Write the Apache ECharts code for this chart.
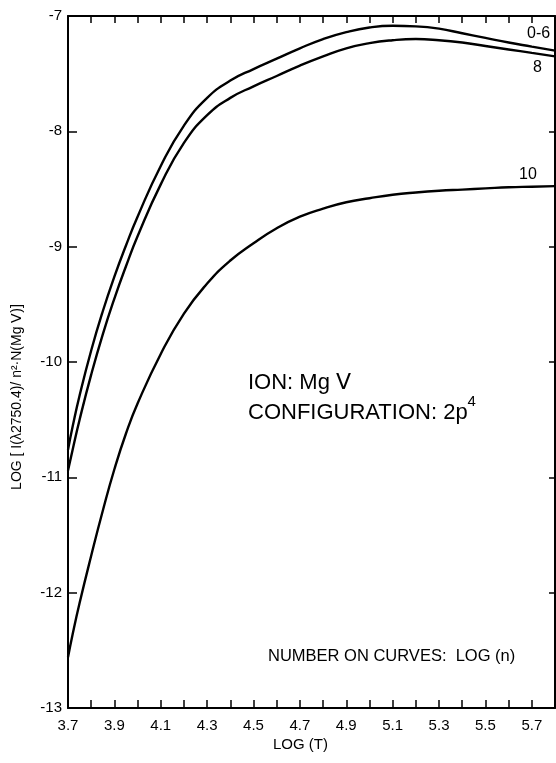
<!DOCTYPE html>
<html>
<head>
<meta charset="utf-8">
<script src="https://cdn.jsdelivr.net/npm/echarts@6/dist/echarts.min.js"></script>
<style>
html,body{margin:0;padding:0;background:#fff;}
#chart{width:556px;height:763px;}
</style>
</head>
<body>
<div id="chart"></div>
<script>
// LOG(T) grid
const logT = [3.70, 3.72, 3.75, 3.80, 3.85, 3.90, 3.95, 4.00, 4.10, 4.20, 4.30, 4.40, 4.50, 4.60, 4.70, 4.80, 4.90, 5.00, 5.10, 5.20, 5.30, 5.40, 5.50, 5.60, 5.70, 5.80];
// curve labelled 0-6
const curve0to6 = [-10.76, -10.56, -10.29, -9.90, -9.56, -9.26, -8.99, -8.74, -8.30, -7.95, -7.71, -7.56, -7.46, -7.37, -7.28, -7.20, -7.14, -7.10, -7.085, -7.09, -7.11, -7.15, -7.19, -7.23, -7.265, -7.30];
// curve labelled 8
const curve8 = [-10.94, -10.76, -10.50, -10.11, -9.76, -9.45, -9.17, -8.91, -8.46, -8.10, -7.86, -7.71, -7.61, -7.52, -7.43, -7.35, -7.28, -7.235, -7.21, -7.20, -7.21, -7.23, -7.26, -7.29, -7.32, -7.35];
// curve labelled 10
const curve10 = [-12.56, -12.36, -12.09, -11.68, -11.29, -10.93, -10.62, -10.36, -9.93, -9.58, -9.32, -9.12, -8.97, -8.84, -8.74, -8.67, -8.615, -8.58, -8.55, -8.53, -8.515, -8.505, -8.495, -8.485, -8.48, -8.475];
const curveLabels = ['0-6', '8', '10'];
const xTickLabels = ['3.7','3.9','4.1','4.3','4.5','4.7','4.9','5.1','5.3','5.5','5.7'];
const yTickLabels = ['-7','-8','-9','-10','-11','-12','-13'];

const FONT = "'Liberation Sans', Arial, sans-serif";
const pairs = arr => logT.map((t, i) => [t, arr[i]]);

const chart = echarts.init(document.getElementById('chart'), null, {renderer: 'canvas'});

const axisLine = {show: true, lineStyle: {color: '#000', width: 2}};
const lineSeries = (name, arr) => ({
  name: name, type: 'line', data: pairs(arr), xAxisIndex: 0, yAxisIndex: 0,
  smooth: 0.5, showSymbol: false, symbol: 'none',
  lineStyle: {color: '#000', width: 2.4}, silent: true, animation: false
});

chart.setOption({
  animation: false,
  backgroundColor: '#fff',
  grid: {left: 68, right: 1, top: 16, bottom: 55, containLabel: false},
  xAxis: [{
    type: 'value', min: 3.7, max: 5.8, interval: 0.1, position: 'bottom',
    axisLine: axisLine,
    axisTick: {show: true, inside: true, length: 8, lineStyle: {color: '#000', width: 1.5}},
    splitLine: {show: false},
    axisLabel: {
      show: true, margin: 10, color: '#000', fontFamily: FONT, fontSize: 15,
      showMaxLabel: false,
      formatter: v => {
        const s = (Math.round(v * 10) / 10).toFixed(1);
        return xTickLabels.indexOf(s) >= 0 ? s : '';
      }
    }
  }, {
    type: 'value', min: 3.7, max: 5.8, interval: 0.1, position: 'top',
    axisLine: axisLine,
    axisTick: {show: true, inside: true, length: 7, lineStyle: {color: '#000', width: 1.5}},
    splitLine: {show: false}, axisLabel: {show: false}
  }],
  yAxis: [{
    type: 'value', min: -13, max: -7, interval: 1, position: 'left',
    axisLine: axisLine,
    axisTick: {show: true, inside: true, length: 9, lineStyle: {color: '#000', width: 1.5}},
    splitLine: {show: false},
    axisLabel: {
      show: true, margin: 6, color: '#000', fontFamily: FONT, fontSize: 15,
      formatter: v => {
        const s = String(Math.round(v));
        return yTickLabels.indexOf(s) >= 0 ? s : '';
      }
    }
  }, {
    type: 'value', min: -13, max: -7, interval: 1, position: 'right',
    axisLine: axisLine,
    axisTick: {show: true, inside: true, length: 6, lineStyle: {color: '#000', width: 1.5}},
    splitLine: {show: false}, axisLabel: {show: false}
  }],
  series: [
    lineSeries(curveLabels[0], curve0to6),
    lineSeries(curveLabels[1], curve8),
    lineSeries(curveLabels[2], curve10)
  ],
  graphic: [
    {type: 'text', left: 527, top: 26, style: {text: curveLabels[0], font: '16px ' + FONT, fill: '#000'}},
    {type: 'text', left: 533, top: 60, style: {text: curveLabels[1], font: '16px ' + FONT, fill: '#000'}},
    {type: 'text', left: 519, top: 167, style: {text: curveLabels[2], font: '16px ' + FONT, fill: '#000'}},
    {type: 'text', left: 248, top: 372, style: {text: 'ION: Mg \u2164', font: '22px ' + FONT, fill: '#000'}},
    {type: 'text', left: 248, top: 394, style: {
      text: '{a|CONFIGURATION: 2p}{s|4}', fill: '#000',
      rich: {a: {font: '22px ' + FONT, fill: '#000', verticalAlign: 'bottom', height: 24},
             s: {font: '15px ' + FONT, fill: '#000', verticalAlign: 'top', height: 24, padding: [0,0,11,0]}}
    }},
    {type: 'text', left: 268, top: 648, style: {text: 'NUMBER ON CURVES:  LOG (n)', font: '16.5px ' + FONT, fill: '#000'}},
    {type: 'text', left: 273, top: 737, style: {text: 'LOG (T)', font: '15px ' + FONT, fill: '#000'}},
    {type: 'text', x: 17, y: 397, rotation: Math.PI / 2,
      style: {text: 'LOG [ I(\u03bb2750.4)/ n\u00b2\u00b7N(Mg \u2164)]', font: '14px ' + FONT, fill: '#000', align: 'center', verticalAlign: 'middle'}}
  ]
});
</script>
</body>
</html>
